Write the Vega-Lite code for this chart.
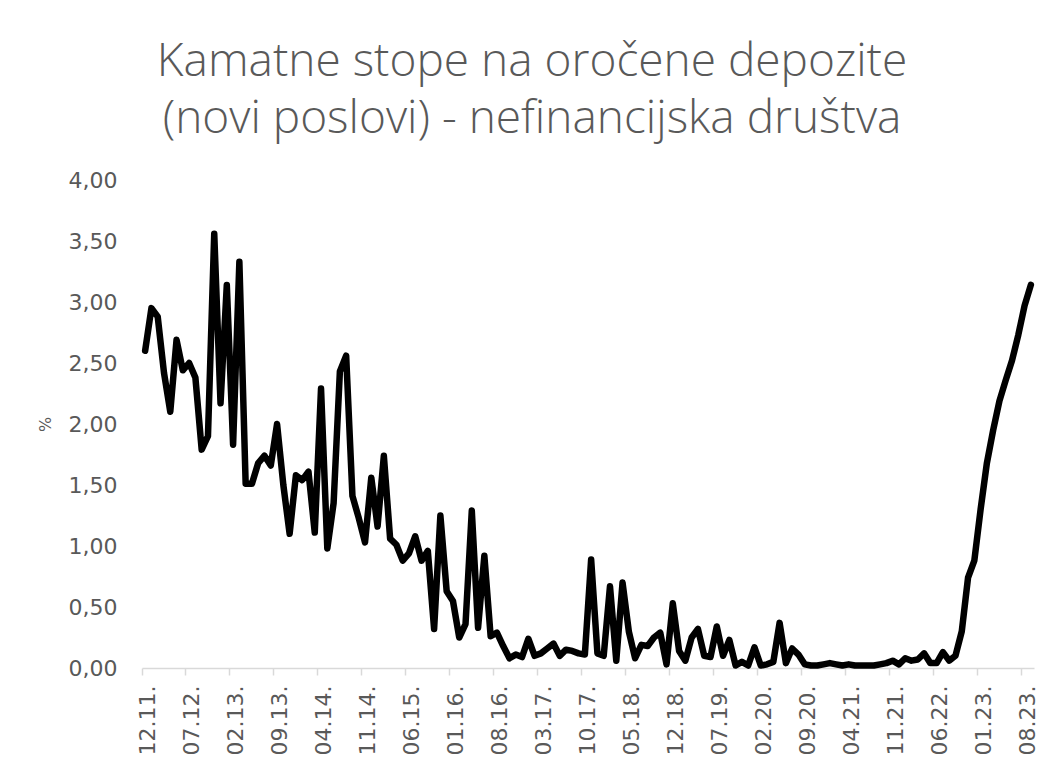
{
  "$schema": "https://vega.github.io/schema/vega-lite/v6.json",
  "width": 892,
  "height": 488,
  "autosize": "none",
  "padding": {"left": 142, "top": 180, "right": 30, "bottom": 107},
  "background": "white",
  "config": {"view": {"stroke": null}},
  "title": {
    "text": ["Kamatne stope na oročene depozite", "(novi poslovi) - nefinancijska društva"],
    "font": "Open Sans",
    "fontWeight": 300,
    "fontSize": 46,
    "color": "#595959",
    "anchor": "middle",
    "frame": "group",
    "dx": -56,
    "offset": 26,
    "lineHeight": 57
  },
  "data": {
    "values": [
      {"month": "12.11.", "rate": 2.60},
      {"month": "01.12.", "rate": 2.95},
      {"month": "02.12.", "rate": 2.88},
      {"month": "03.12.", "rate": 2.42},
      {"month": "04.12.", "rate": 2.10},
      {"month": "05.12.", "rate": 2.69},
      {"month": "06.12.", "rate": 2.44},
      {"month": "07.12.", "rate": 2.50},
      {"month": "08.12.", "rate": 2.38},
      {"month": "09.12.", "rate": 1.79},
      {"month": "10.12.", "rate": 1.90},
      {"month": "11.12.", "rate": 3.56},
      {"month": "12.12.", "rate": 2.17},
      {"month": "01.13.", "rate": 3.14},
      {"month": "02.13.", "rate": 1.83},
      {"month": "03.13.", "rate": 3.33},
      {"month": "04.13.", "rate": 1.51},
      {"month": "05.13.", "rate": 1.51},
      {"month": "06.13.", "rate": 1.68},
      {"month": "07.13.", "rate": 1.74},
      {"month": "08.13.", "rate": 1.66},
      {"month": "09.13.", "rate": 2.00},
      {"month": "10.13.", "rate": 1.50},
      {"month": "11.13.", "rate": 1.10},
      {"month": "12.13.", "rate": 1.58},
      {"month": "01.14.", "rate": 1.54},
      {"month": "02.14.", "rate": 1.61},
      {"month": "03.14.", "rate": 1.11},
      {"month": "04.14.", "rate": 2.29},
      {"month": "05.14.", "rate": 0.98},
      {"month": "06.14.", "rate": 1.35},
      {"month": "07.14.", "rate": 2.43},
      {"month": "08.14.", "rate": 2.56},
      {"month": "09.14.", "rate": 1.41},
      {"month": "10.14.", "rate": 1.23},
      {"month": "11.14.", "rate": 1.03},
      {"month": "12.14.", "rate": 1.56},
      {"month": "01.15.", "rate": 1.16},
      {"month": "02.15.", "rate": 1.74},
      {"month": "03.15.", "rate": 1.06},
      {"month": "04.15.", "rate": 1.01},
      {"month": "05.15.", "rate": 0.88},
      {"month": "06.15.", "rate": 0.94},
      {"month": "07.15.", "rate": 1.08},
      {"month": "08.15.", "rate": 0.88},
      {"month": "09.15.", "rate": 0.96},
      {"month": "10.15.", "rate": 0.32},
      {"month": "11.15.", "rate": 1.25},
      {"month": "12.15.", "rate": 0.63},
      {"month": "01.16.", "rate": 0.55},
      {"month": "02.16.", "rate": 0.25},
      {"month": "03.16.", "rate": 0.36},
      {"month": "04.16.", "rate": 1.29},
      {"month": "05.16.", "rate": 0.33},
      {"month": "06.16.", "rate": 0.92},
      {"month": "07.16.", "rate": 0.26},
      {"month": "08.16.", "rate": 0.29},
      {"month": "09.16.", "rate": 0.18},
      {"month": "10.16.", "rate": 0.08},
      {"month": "11.16.", "rate": 0.11},
      {"month": "12.16.", "rate": 0.09},
      {"month": "01.17.", "rate": 0.24},
      {"month": "02.17.", "rate": 0.10},
      {"month": "03.17.", "rate": 0.12},
      {"month": "04.17.", "rate": 0.16},
      {"month": "05.17.", "rate": 0.20},
      {"month": "06.17.", "rate": 0.10},
      {"month": "07.17.", "rate": 0.15},
      {"month": "08.17.", "rate": 0.14},
      {"month": "09.17.", "rate": 0.12},
      {"month": "10.17.", "rate": 0.11},
      {"month": "11.17.", "rate": 0.89},
      {"month": "12.17.", "rate": 0.12},
      {"month": "01.18.", "rate": 0.10},
      {"month": "02.18.", "rate": 0.67},
      {"month": "03.18.", "rate": 0.06},
      {"month": "04.18.", "rate": 0.70},
      {"month": "05.18.", "rate": 0.30},
      {"month": "06.18.", "rate": 0.08},
      {"month": "07.18.", "rate": 0.19},
      {"month": "08.18.", "rate": 0.18},
      {"month": "09.18.", "rate": 0.25},
      {"month": "10.18.", "rate": 0.29},
      {"month": "11.18.", "rate": 0.03},
      {"month": "12.18.", "rate": 0.53},
      {"month": "01.19.", "rate": 0.14},
      {"month": "02.19.", "rate": 0.06},
      {"month": "03.19.", "rate": 0.25},
      {"month": "04.19.", "rate": 0.32},
      {"month": "05.19.", "rate": 0.10},
      {"month": "06.19.", "rate": 0.09},
      {"month": "07.19.", "rate": 0.34},
      {"month": "08.19.", "rate": 0.10},
      {"month": "09.19.", "rate": 0.23},
      {"month": "10.19.", "rate": 0.02},
      {"month": "11.19.", "rate": 0.05},
      {"month": "12.19.", "rate": 0.02},
      {"month": "01.20.", "rate": 0.17},
      {"month": "02.20.", "rate": 0.02},
      {"month": "03.20.", "rate": 0.03},
      {"month": "04.20.", "rate": 0.05},
      {"month": "05.20.", "rate": 0.37},
      {"month": "06.20.", "rate": 0.04},
      {"month": "07.20.", "rate": 0.16},
      {"month": "08.20.", "rate": 0.11},
      {"month": "09.20.", "rate": 0.03},
      {"month": "10.20.", "rate": 0.02},
      {"month": "11.20.", "rate": 0.02},
      {"month": "12.20.", "rate": 0.03},
      {"month": "01.21.", "rate": 0.04},
      {"month": "02.21.", "rate": 0.03},
      {"month": "03.21.", "rate": 0.02},
      {"month": "04.21.", "rate": 0.03},
      {"month": "05.21.", "rate": 0.02},
      {"month": "06.21.", "rate": 0.02},
      {"month": "07.21.", "rate": 0.02},
      {"month": "08.21.", "rate": 0.02},
      {"month": "09.21.", "rate": 0.03},
      {"month": "10.21.", "rate": 0.04},
      {"month": "11.21.", "rate": 0.06},
      {"month": "12.21.", "rate": 0.03},
      {"month": "01.22.", "rate": 0.08},
      {"month": "02.22.", "rate": 0.06},
      {"month": "03.22.", "rate": 0.07},
      {"month": "04.22.", "rate": 0.12},
      {"month": "05.22.", "rate": 0.04},
      {"month": "06.22.", "rate": 0.04},
      {"month": "07.22.", "rate": 0.13},
      {"month": "08.22.", "rate": 0.06},
      {"month": "09.22.", "rate": 0.10},
      {"month": "10.22.", "rate": 0.30},
      {"month": "11.22.", "rate": 0.74},
      {"month": "12.22.", "rate": 0.88},
      {"month": "01.23.", "rate": 1.30},
      {"month": "02.23.", "rate": 1.68},
      {"month": "03.23.", "rate": 1.95},
      {"month": "04.23.", "rate": 2.19},
      {"month": "05.23.", "rate": 2.36},
      {"month": "06.23.", "rate": 2.52},
      {"month": "07.23.", "rate": 2.73},
      {"month": "08.23.", "rate": 2.97},
      {"month": "09.23.", "rate": 3.14}
    ]
  },
  "mark": {"type": "line", "color": "black", "strokeWidth": 6.5, "strokeJoin": "round", "strokeCap": "round"},
  "encoding": {
    "x": {
      "field": "month",
      "type": "ordinal",
      "sort": null,
      "scale": {"type": "band", "paddingInner": 0, "paddingOuter": 0},
      "axis": {
        "title": null,
        "values": ["12.11.", "07.12.", "02.13.", "09.13.", "04.14.", "11.14.", "06.15.", "01.16.", "08.16.", "03.17.", "10.17.", "05.18.", "12.18.", "07.19.", "02.20.", "09.20.", "04.21.", "11.21.", "06.22.", "01.23.", "08.23."],
        "bandPosition": 0,
        "labelOffset": 3,
        "labelAngle": -90,
        "labelAlign": "right",
        "labelBaseline": "middle",
        "labelFont": "DejaVu Sans",
        "labelFontSize": 22,
        "labelColor": "#595959",
        "labelPadding": 10,
        "labelOverlap": false,
        "domainColor": "#d9d9d9",
        "domainWidth": 1.5,
        "tickColor": "#d9d9d9",
        "tickWidth": 1.5,
        "tickSize": 7,
        "grid": false
      }
    },
    "y": {
      "field": "rate",
      "type": "quantitative",
      "scale": {"domain": [0, 4], "nice": false},
      "axis": {
        "title": "%",
        "values": [0, 0.5, 1, 1.5, 2, 2.5, 3, 3.5, 4],
        "labelExpr": "replace(format(datum.value, '.2f'), '.', ',')",
        "domain": false,
        "ticks": false,
        "grid": false,
        "labelFont": "DejaVu Sans",
        "labelFontSize": 22,
        "labelColor": "#595959",
        "labelPadding": 25,
        "titleFont": "DejaVu Sans",
        "titleFontSize": 16,
        "titleFontWeight": "normal",
        "titleColor": "#595959",
        "titlePadding": 15
      }
    }
  }
}
